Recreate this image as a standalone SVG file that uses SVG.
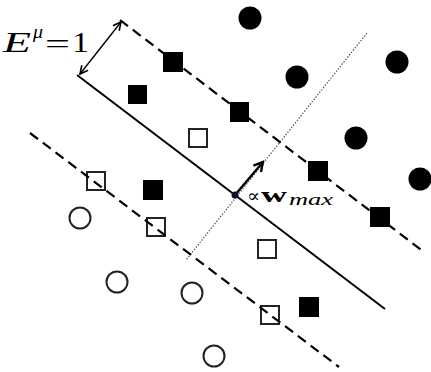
<svg xmlns="http://www.w3.org/2000/svg" width="431" height="372" viewBox="0 0 431 372">
<defs>
<marker id="ah" viewBox="0 0 10 10" refX="9" refY="5" markerWidth="10" markerHeight="10" markerUnits="userSpaceOnUse" orient="auto-start-reverse">
<path d="M1,1 L9,5 L1,9" fill="none" stroke="#000" stroke-width="1.6"/>
</marker>
<marker id="ah2" viewBox="0 0 12 12" refX="10" refY="6" markerWidth="12" markerHeight="12" markerUnits="userSpaceOnUse" orient="auto">
<path d="M1,1 L10,6 L1,11" fill="none" stroke="#000" stroke-width="2.4"/>
</marker>
</defs>
<style>
.solid{stroke:#000;stroke-width:2;fill:none}
.dash{stroke:#000;stroke-width:2.2;fill:none;stroke-dasharray:10 6}
.dot{stroke:#555;stroke-width:1.2;fill:none;stroke-dasharray:1.5 1.5}
.fs{fill:#000}
.os{fill:#fff;stroke:#222;stroke-width:2}
.fc{fill:#000}
.oc{fill:#fff;stroke:#222;stroke-width:2}
.tx{font-family:"Liberation Serif","DejaVu Serif",serif;fill:#000}
</style>
<g id="filled-squares">
<rect class="fs" x="163" y="52" width="20" height="20"/>
<rect class="fs" x="128" y="85" width="19" height="19"/>
<rect class="fs" x="230" y="102" width="19" height="20"/>
<rect class="fs" x="308" y="161" width="20" height="20"/>
<rect class="fs" x="370" y="207" width="20" height="20"/>
<rect class="fs" x="143" y="180" width="20" height="20"/>
<rect class="fs" x="299" y="297" width="20" height="20"/>
</g>
<g id="open-squares">
<rect class="os" x="189" y="129" width="18" height="18"/>
<rect class="os" x="87" y="172" width="18" height="18"/>
<rect class="os" x="147" y="218" width="18" height="18"/>
<rect class="os" x="258" y="240" width="18" height="18"/>
<rect class="os" x="261" y="306" width="18" height="18"/>
</g>
<g id="filled-circles">
<circle class="fc" cx="250" cy="18" r="11.5"/>
<circle class="fc" cx="297" cy="77" r="11.5"/>
<circle class="fc" cx="397" cy="62" r="11.5"/>
<circle class="fc" cx="356" cy="138" r="11.5"/>
<circle class="fc" cx="420" cy="179" r="11.5"/>
</g>
<g id="open-circles">
<circle class="oc" cx="80" cy="218" r="10.5"/>
<circle class="oc" cx="117" cy="282" r="10.5"/>
<circle class="oc" cx="192" cy="293" r="10.5"/>
<circle class="oc" cx="214" cy="356" r="10.5"/>
</g>
<g id="connectors">
<line class="dot" x1="367" y1="33" x2="186" y2="260"/>
<line class="solid" x1="77" y1="75" x2="385" y2="309"/>
<line class="dash" x1="120" y1="20" x2="424" y2="252"/>
<line class="dash" x1="30" y1="133" x2="339" y2="367"/>
<line stroke="#000" stroke-width="1.4" x1="80" y1="74" x2="121" y2="22" marker-start="url(#ah)" marker-end="url(#ah)"/>
<line stroke="#000" stroke-width="2.4" x1="235" y1="195" x2="263" y2="162" marker-end="url(#ah2)"/>
<circle cx="235" cy="195" r="3.5" fill="#0a0f2a"/>
</g>
<g id="label-margin">
<text class="tx" x="3" y="52" font-size="30" font-style="italic" textLength="28" lengthAdjust="spacingAndGlyphs">E</text>
<text class="tx" x="33" y="38" font-size="19" font-style="italic" textLength="10" lengthAdjust="spacingAndGlyphs">μ</text>
<text class="tx" x="45" y="53" font-size="28" textLength="25" lengthAdjust="spacingAndGlyphs">=</text>
<text class="tx" x="72" y="52" font-size="30" textLength="17" lengthAdjust="spacingAndGlyphs">1</text>
</g>
<g id="label-w">
<text x="247" y="202" font-family="'DejaVu Serif',serif" font-size="18" textLength="13" lengthAdjust="spacingAndGlyphs">∝</text>
<text class="tx" x="261" y="202" font-size="22" font-weight="bold" textLength="26" lengthAdjust="spacingAndGlyphs">w</text>
<text class="tx" x="289" y="205" font-size="17" font-style="italic" textLength="44" lengthAdjust="spacingAndGlyphs">max</text>
</g>
</svg>
